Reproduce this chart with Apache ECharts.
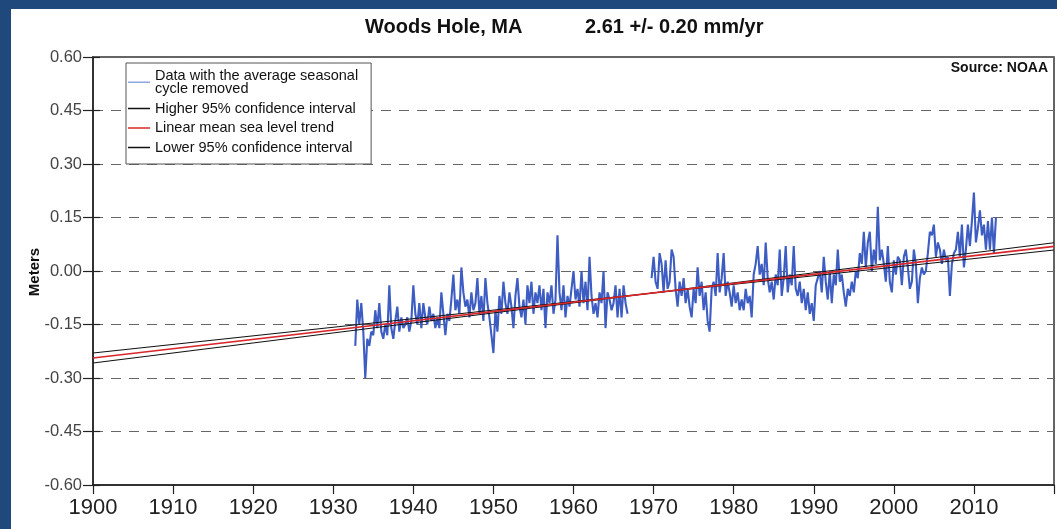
<!DOCTYPE html>
<html><head><meta charset="utf-8">
<script src="https://cdn.jsdelivr.net/npm/echarts@6/dist/echarts.min.js"></script>
<style>
html,body{margin:0;padding:0;background:#1f497d;width:1057px;height:529px;overflow:hidden}
#chart{position:absolute;left:11px;top:9px;width:1046px;height:520px;background:#fff}
</style></head><body><div id="chart"></div>
<script>
const stationTitle = 'Woods Hole, MA';
const rateTitle = '2.61 +/- 0.20 mm/yr';
const sourceText = 'Source: NOAA';
const yAxisName = 'Meters';
const seriesNames = ['Data with the average seasonal\ncycle removed', 'Higher 95% confidence interval', 'Linear mean sea level trend', 'Lower 95% confidence interval'];

// quarterly readings starting at 1932.75, step 0.25 yr (null = gap in record)
const dataStart = 1932.75;
const dataStep = 0.25;
const seaLevel = [
  -0.21,
  -0.08, -0.15, -0.09, -0.17,
  -0.30, -0.19, -0.21, -0.17,
  -0.18, -0.11, -0.16, -0.09,
  -0.17, -0.19, -0.15, -0.18,
  -0.04, -0.16, -0.19, -0.14,
  -0.10, -0.17, -0.13, -0.16,
  -0.15, -0.13, -0.17, -0.14,
  -0.04, -0.12, -0.15, -0.09,
  -0.16, -0.09, -0.13, -0.15,
  -0.10, -0.14, -0.12, -0.16,
  -0.13, -0.16, -0.06, -0.12,
  -0.18, -0.12, -0.14, -0.08,
  -0.01, -0.11, -0.08, -0.12,
  0.01, -0.06, -0.10, -0.08,
  -0.13, -0.06, -0.11, -0.09,
  -0.02, -0.12, -0.07, -0.14,
  -0.02, -0.09, -0.13, -0.18,
  -0.23, -0.11, -0.17, -0.07,
  -0.12, -0.03, -0.09, -0.12,
  -0.06, -0.10, -0.16, -0.07,
  -0.02, -0.10, -0.13, -0.08,
  -0.15, -0.04, -0.09, -0.03,
  -0.12, -0.06, -0.09, -0.04,
  -0.11, -0.05, -0.16, -0.06,
  -0.09, -0.04, -0.12, -0.08,
  0.10, -0.06, -0.11, -0.04,
  -0.13, -0.07, -0.10, -0.05,
  0.00, -0.08, -0.05, -0.10,
  0.00, -0.09, -0.03, -0.11,
  0.04, -0.07, -0.12, -0.09,
  -0.13, -0.06, -0.09, 0.00,
  -0.16, -0.06, -0.08, -0.11,
  -0.09, -0.04, -0.13, -0.05,
  -0.13, -0.04, -0.09, -0.12,
  null, null, null, null,
  null, null, null, null,
  null, null, null, -0.02,
  0.04, -0.03, -0.05, 0.05,
  0.02, -0.06, 0.03, -0.05,
  -0.03, 0.06, 0.04, -0.05,
  -0.10, -0.03, -0.07, -0.02,
  -0.09, -0.05, -0.10, -0.13,
  -0.05, -0.09, 0.01, -0.07,
  -0.03, -0.11, -0.06, -0.14,
  -0.17, -0.05, -0.03, -0.07,
  0.05, -0.06, -0.02, 0.05,
  -0.07, -0.03, -0.06, -0.10,
  -0.04, -0.09, -0.06, -0.11,
  -0.08, -0.11, -0.05, -0.09,
  -0.07, -0.13, -0.01, 0.02,
  0.07, -0.01, 0.02, -0.04,
  0.08, -0.02, -0.06, -0.03,
  -0.08, -0.01, -0.04, 0.06,
  -0.07, -0.02, 0.07, -0.06,
  -0.01, -0.04, 0.07, -0.05,
  -0.07, -0.03, -0.09, -0.05,
  -0.11, -0.06, -0.12, -0.09,
  -0.14, -0.04, -0.02, 0.00,
  -0.06, 0.04, -0.03, -0.08,
  0.00, -0.09, -0.01, -0.04,
  0.06, -0.03, -0.01, -0.06,
  -0.10, -0.05, -0.07, -0.03,
  -0.06, 0.00, -0.02, 0.05,
  0.02, 0.11, 0.01, 0.08,
  0.11, 0.00, 0.06, 0.02,
  0.18, 0.03, 0.06, 0.02,
  -0.03, 0.07, -0.03, -0.06,
  0.03, -0.01, 0.04, 0.03,
  -0.04, 0.04, 0.06, 0.01,
  -0.05, -0.03, 0.06, 0.02,
  -0.09, -0.02, 0.01, -0.01,
  0.00, 0.05, 0.11, 0.10,
  0.13, 0.04, 0.08, 0.06,
  0.02, 0.06, 0.03, 0.04,
  -0.07, 0.02, 0.05, 0.06,
  0.11, 0.04, 0.13, 0.01,
  0.06, 0.13, 0.07, 0.14,
  0.22, 0.08, 0.12, 0.17,
  0.10, 0.13, 0.06, 0.14,
  0.06, 0.15, 0.05, 0.15
];

const trendYears = [1900, 2020];
const trendMean = [-0.244, 0.069];
const trendHigh = [-0.258, 0.079];
const trendLow = [-0.230, 0.059];

const xMin = 1900, xMax = 2020, xStep = 10;
const yMin = -0.60, yMax = 0.60, yStep = 0.15;

const pairs = (xs, ys) => xs.map((x, i) => [x, ys[i]]);
const dataPairs = seaLevel.map((v, i) => [dataStart + i * dataStep, v]);

const FONT = '"Liberation Sans", Arial, sans-serif';
const chart = echarts.init(document.getElementById('chart'), null, {renderer: 'canvas'});
chart.setOption({
  animation: false,
  backgroundColor: '#fff',
  title: [
    {text: stationTitle, left: 354, top: 8, padding: 0, textStyle: {fontFamily: FONT, fontSize: 20, fontWeight: 'bold', color: '#111'}},
    {text: rateTitle, left: 574, top: 8, padding: 0, textStyle: {fontFamily: FONT, fontSize: 20, fontWeight: 'bold', color: '#111'}}
  ],
  grid: {left: 82, right: 3, top: 48, bottom: 44, show: true, borderColor: '#333', borderWidth: 1.5, backgroundColor: 'transparent'},
  legend: {
    orient: 'vertical', left: 115, top: 54,
    padding: [5, 13, 9, 2], itemGap: 4.5,
    itemWidth: 22, itemHeight: 1.5, icon: 'rect',
    backgroundColor: '#fff', borderColor: '#555', borderWidth: 1, borderRadius: 0,
    textStyle: {fontFamily: FONT, fontSize: 14.5, lineHeight: 13.5, color: '#111'},
    data: [
      {name: seriesNames[0], itemStyle: {color: '#8fa6dc'}},
      {name: seriesNames[1], itemStyle: {color: '#111'}},
      {name: seriesNames[2], itemStyle: {color: '#d9262b'}},
      {name: seriesNames[3], itemStyle: {color: '#111'}}
    ]
  },
  xAxis: {
    type: 'value', min: xMin, max: xMax, interval: xStep,
    axisLine: {show: true, onZero: false, lineStyle: {color: '#222', width: 1.5}},
    axisTick: {show: true, length: 9, lineStyle: {color: '#222', width: 1.2}},
    axisLabel: {fontFamily: FONT, fontSize: 22, color: '#222', margin: 12,
      formatter: v => (v >= 2020 ? '' : String(v))},
    splitLine: {show: false}
  },
  yAxis: [
    {
      type: 'value', min: yMin, max: yMax, interval: yStep,
      axisLine: {show: true, onZero: false, lineStyle: {color: '#222', width: 1.5}},
      axisTick: {show: true, length: 10, lineStyle: {color: '#222', width: 1.2}},
      axisLabel: {fontFamily: FONT, fontSize: 16.5, color: '#444', margin: 11,
        formatter: v => (Math.abs(v) < 1e-9 ? '0.00' : v.toFixed(2))},
      splitLine: {show: true, lineStyle: {color: '#666', width: 1, type: [10, 8]}}
    },
    {
      type: 'value', min: yMin, max: yMax, interval: yStep, position: 'left', offset: 0,
      axisLine: {show: false, onZero: false},
      axisTick: {show: true, inside: true, length: 7, lineStyle: {color: '#222', width: 1.2}},
      axisLabel: {show: false},
      splitLine: {show: false}
    }
  ],
  graphic: [
    {type: 'text', x: 24, y: 263, rotation: Math.PI / 2,
      style: {text: yAxisName, font: 'bold 15px ' + FONT, fill: '#111', textAlign: 'center', textVerticalAlign: 'middle'}},
    {type: 'text', x: 1037, y: 59,
      style: {text: sourceText, font: 'bold 14px ' + FONT, fill: '#111', textAlign: 'right', textVerticalAlign: 'middle'}}
  ],
  series: [
    {name: seriesNames[0], type: 'line', data: dataPairs, showSymbol: false, connectNulls: false, z: 2,
      lineStyle: {color: '#3d5dc3', width: 2.1}, itemStyle: {color: '#3d5dc3'}},
    {name: seriesNames[1], type: 'line', data: pairs(trendYears, trendHigh), showSymbol: false, z: 3,
      lineStyle: {color: '#111', width: 1.1}, itemStyle: {color: '#111'}},
    {name: seriesNames[2], type: 'line', data: pairs(trendYears, trendMean), showSymbol: false, z: 4,
      lineStyle: {color: '#d9262b', width: 1.6}, itemStyle: {color: '#d9262b'}},
    {name: seriesNames[3], type: 'line', data: pairs(trendYears, trendLow), showSymbol: false, z: 3,
      lineStyle: {color: '#111', width: 1.1}, itemStyle: {color: '#111'}}
  ]
});
</script></body></html>
